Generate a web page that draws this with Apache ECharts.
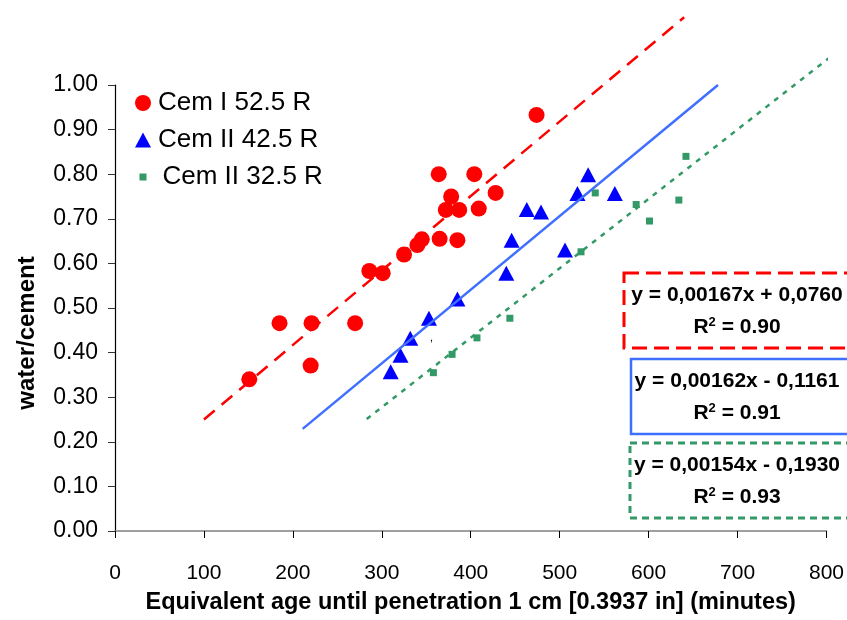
<!DOCTYPE html>
<html>
<head>
<meta charset="utf-8">
<script src="https://cdn.jsdelivr.net/npm/echarts@6/dist/echarts.min.js"></script>
<style>
  html, body { margin: 0; padding: 0; background: #fff; }
  #chart { width: 847px; height: 620px; }
</style>
</head>
<body>
<div id="chart"></div>
<script>
// ---- Data ----
const seriesNames = ['Cem I 52.5 R', 'Cem II 42.5 R', 'Cem II 32.5 R'];

const cem52x = [151, 185, 221, 220, 270, 286, 301, 325, 340, 345, 365, 385, 364, 404, 378, 372, 387, 409, 428, 474];
const cem52y = [0.34, 0.466, 0.466, 0.371, 0.466, 0.583, 0.578, 0.620, 0.641, 0.654, 0.655, 0.652, 0.80, 0.80, 0.75, 0.72, 0.72, 0.723, 0.758, 0.933];

const cem42x = [310, 321, 332, 353, 385, 440, 446, 463, 479, 506, 520, 532, 562];
const cem42y = [0.357, 0.394, 0.432, 0.477, 0.520, 0.578, 0.652, 0.721, 0.715, 0.630, 0.757, 0.799, 0.757];

const cem32x = [358, 379, 407, 444, 524, 540, 586, 601, 634, 642];
const cem32y = [0.355, 0.396, 0.433, 0.477, 0.626, 0.758, 0.732, 0.695, 0.742, 0.840];

// trend line end points (x, y)
const trend52x = [100, 640];
const trend52y = [0.25, 1.152];
const trend42x = [211, 678];
const trend42y = [0.229, 1.0];
const trend32x = [283, 825];
const trend32y = [0.251, 1.095];

const equations = ['y = 0,00167x + 0,0760', 'y = 0,00162x - 0,1161', 'y = 0,00154x - 0,1930'];
const r2values = ['0.90', '0.91', '0.93'];

const xMin = 0, xMax = 800, xStep = 100;
const yMin = 0, yMax = 1, yStep = 0.1;

const xName = 'Equivalent age until penetration 1 cm [0.3937 in] (minutes)';
const yName = 'water/cement';

// ---- Build ----
const zip = (xs, ys) => xs.map((x, i) => [x, ys[i]]);
const FONT = '"Liberation Sans", Arial, sans-serif';

const colors = {
  red: '#FF0000',
  blue: '#0000FF',
  blueLine: '#3F6FFF',
  green: '#339966'
};

function legendFor(name, top, icon, w, h, color, padLeft) {
  return {
    data: [{ name: name, icon: icon, itemStyle: { color: color } }],
    orient: 'vertical',
    left: 130 + (16 - w) / 2,
    top: top,
    itemWidth: w,
    itemHeight: h,
    textStyle: { fontFamily: FONT, fontSize: 26, color: '#000', padding: [0, 0, 0, padLeft] },
    selectedMode: false
  };
}

const boxes = [
  { top: 273, left: 624, stroke: colors.red, dash: [15, 7], lw: 3 },
  { top: 359, left: 631, stroke: colors.blueLine, dash: null, lw: 2.5 },
  { top: 443, left: 630, stroke: colors.green, dash: [7, 5], lw: 3 }
];

const graphic = [];
boxes.forEach((b, i) => {
  graphic.push({
    type: 'rect',
    shape: { x: b.left, y: b.top, width: 260, height: 75 },
    style: { fill: '#fff', stroke: b.stroke, lineWidth: b.lw, lineDash: b.dash || null },
    z: 10
  });
  graphic.push({
    type: 'text',
    x: 737, y: b.top + 22,
    style: {
      text: equations[i], fontFamily: FONT, fontWeight: 'bold', fontSize: 21,
      fill: '#000', align: 'center', verticalAlign: 'middle'
    },
    z: 11
  });
  graphic.push({
    type: 'text',
    x: 737, y: b.top + 54,
    style: {
      text: 'R{s|2} = ' + r2values[i],
      rich: { s: { fontSize: 13, fontWeight: 'bold', fontFamily: FONT, verticalAlign: 'top', padding: [0, 0, 10, 0] } },
      fontFamily: FONT, fontWeight: 'bold', fontSize: 21,
      fill: '#000', align: 'center', verticalAlign: 'middle'
    },
    z: 11
  });
});
graphic.push({
  type: 'text', x: 430, y: 332,
  style: { text: ',', fontFamily: FONT, fontSize: 11, fill: '#000' }
});

const chart = echarts.init(document.getElementById('chart'), null, { renderer: 'canvas' });
chart.setOption({
  animation: false,
  backgroundColor: '#fff',
  grid: { left: 115, right: 19, top: 85, bottom: 87, containLabel: false },
  xAxis: {
    type: 'value', min: xMin, max: xMax, interval: xStep,
    name: xName, nameLocation: 'middle', nameGap: 60,
    nameTextStyle: { fontFamily: FONT, fontWeight: 'bold', fontSize: 23.5, color: '#000' },
    axisLine: { show: true, onZero: false, lineStyle: { color: '#808080', width: 1.5 } },
    axisTick: { show: true, length: 7, lineStyle: { color: '#000' } },
    axisLabel: { fontFamily: FONT, fontSize: 21, color: '#000', margin: 32 },
    splitLine: { show: false }
  },
  yAxis: {
    type: 'value', min: yMin, max: yMax, interval: yStep,
    name: yName, nameLocation: 'middle', nameGap: 76, nameRotate: 90,
    nameTextStyle: { fontFamily: FONT, fontWeight: 'bold', fontSize: 24, color: '#000', padding: [0, 50, 0, 0] },
    axisLine: { show: true, onZero: false, lineStyle: { color: '#000', width: 1.2 } },
    axisTick: { show: true, length: 7, lineStyle: { color: '#333' } },
    axisLabel: { fontFamily: FONT, fontSize: 23, color: '#000', margin: 17, formatter: v => v.toFixed(2) },
    splitLine: { show: false }
  },
  legend: [
    legendFor(seriesNames[0], 85, 'circle', 16, 16, colors.red, 2),
    legendFor(seriesNames[1], 122, 'triangle', 16, 15, colors.blue, 2),
    legendFor(seriesNames[2], 159, 'rect', 7, 7, colors.green, 11)
  ],
  graphic: graphic,
  series: [
    {
      name: seriesNames[0], type: 'scatter', symbol: 'circle', symbolSize: 16,
      itemStyle: { color: colors.red, opacity: 1 },
      data: zip(cem52x, cem52y), z: 3
    },
    {
      name: seriesNames[1], type: 'scatter', symbol: 'triangle', symbolSize: [16, 15],
      itemStyle: { color: colors.blue, opacity: 1 },
      data: zip(cem42x, cem42y), z: 3
    },
    {
      name: seriesNames[2], type: 'scatter', symbol: 'rect', symbolSize: 7,
      itemStyle: { color: colors.green, opacity: 1 },
      data: zip(cem32x, cem32y), z: 3
    },
    {
      name: 'trend1', type: 'line', data: zip(trend52x, trend52y), showSymbol: false, symbol: 'none',
      clip: false, lineStyle: { color: colors.red, width: 2.5, type: [14, 9] }, z: 4
    },
    {
      name: 'trend2', type: 'line', data: zip(trend42x, trend42y), showSymbol: false, symbol: 'none',
      clip: false, lineStyle: { color: colors.blueLine, width: 2.5, type: 'solid' }, z: 4
    },
    {
      name: 'trend3', type: 'line', data: zip(trend32x, trend32y), showSymbol: false, symbol: 'none',
      clip: false, lineStyle: { color: colors.green, width: 2.5, type: [5, 6] }, z: 4
    }
  ]
});
</script>
</body>
</html>
